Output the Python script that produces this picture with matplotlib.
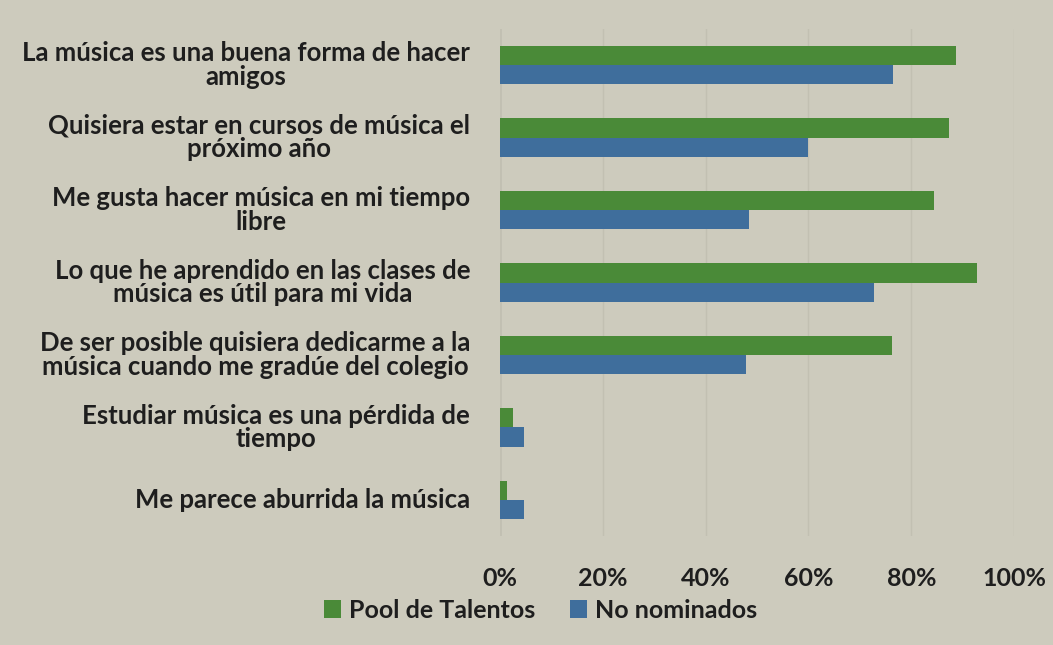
import matplotlib
matplotlib.use("Agg")
import matplotlib.pyplot as plt
import matplotlib.transforms as mtransforms
import numpy as np

categories = [
    "La música es una buena forma de hacer\namigos",
    "Quisiera estar en cursos de música el\npróximo año",
    "Me gusta hacer música en mi tiempo\nlibre",
    "Lo que he aprendido en las clases de\nmúsica es útil para mi vida",
    "De ser posible quisiera dedicarme a la\nmúsica cuando me gradúe del colegio",
    "Estudiar música es una pérdida de\ntiempo",
    "Me parece aburrida la música",
]
pool_talentos = [0.887, 0.874, 0.845, 0.927, 0.762, 0.024, 0.014]
no_nominados = [0.765, 0.600, 0.485, 0.728, 0.478, 0.046, 0.046]
xticks = [0, 0.2, 0.4, 0.6, 0.8, 1.0]
xticklabels = ["0%", "20%", "40%", "60%", "80%", "100%"]

plt.rcParams['font.family'] = ['Lato', 'DejaVu Sans']

bg = "#cdcbbd"
green = "#4a8a38"
blue = "#3f6e9c"
txt = "#1e1e1e"

fig = plt.figure(figsize=(10.53, 6.45), dpi=100, facecolor=bg)
ax = fig.add_axes([0.475, 0.169, 0.488, 0.786])
ax.set_facecolor(bg)

y = np.arange(len(categories))
h = 0.265
ax.barh(y - h / 2, pool_talentos, height=h, color=green, label="Pool de Talentos")
ax.barh(y + h / 2, no_nominados, height=h, color=blue, label="No nominados")

ax.set_ylim(len(categories) - 0.5, -0.5)
ax.set_xlim(0, 1.0)
ax.set_xticks(xticks)
ax.set_xticklabels(xticklabels, fontsize=18, fontweight='bold', color=txt)
ax.set_yticks([])
ax.tick_params(axis='x', length=0, pad=22)
ax.grid(axis='x', color="#c2c0b2", linewidth=1)
ax.set_axisbelow(True)
for s in ax.spines.values():
    s.set_visible(False)
ax.axvline(0, color="#9a9a90", linewidth=1, zorder=0.5)

trans = mtransforms.blended_transform_factory(ax.transAxes, ax.transData) + \
    mtransforms.ScaledTranslation(-30 / 100, 0, fig.dpi_scale_trans)
for yi, lab in zip(y, categories):
    ax.text(0, yi, lab, transform=trans, ha='right', va='center', multialignment='center',
            fontsize=18.5, fontweight='bold', color=txt, linespacing=0.98)

fig.legend(loc='center', bbox_to_anchor=(0.513, 1 - 610 / 645), ncol=2, frameon=False,
           prop={'size': 18, 'weight': 'bold'}, handlelength=0.7, handleheight=0.7,
           handletextpad=0.3, columnspacing=1.4, labelcolor=txt)

fig.savefig("out.png", dpi=100, facecolor=bg)
